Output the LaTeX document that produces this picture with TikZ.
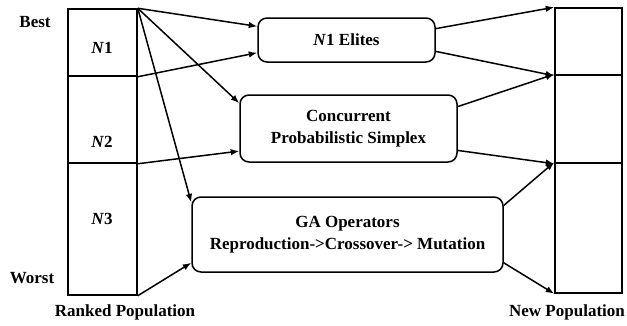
\documentclass[tikz,border=0pt]{standalone}
\usepackage{fontspec}
\setmainfont{Liberation Serif}
\usetikzlibrary{arrows.meta,calc}
\begin{document}
\begin{tikzpicture}[x=1pt,y=-1pt,
  every node/.style={font=\fontsize{17}{21.5}\selectfont\bfseries},
  cell/.style={draw,line width=1.5pt,inner sep=0pt},
  procbox/.style={draw,line width=1.5pt,rounded corners=9pt,inner sep=0pt,align=center},
  lbl/.style={inner sep=0pt},
  conn/.style={line width=1.5pt,-{Latex[length=8.5pt,width=6.5pt]}}]
\useasboundingbox (0,0) rectangle (627,325);
% ranked population
\node[cell,minimum width=69pt,minimum height=67pt] (rN1) at (102.5,42.5) {};
\node[cell,minimum width=69pt,minimum height=87pt] (rN2) at (102.5,119.5) {};
\node[cell,minimum width=69pt,minimum height=132pt] (rN3) at (102.5,229) {};
% new population
\node[cell,minimum width=67pt,minimum height=67pt] (nP1) at (588.5,41.5) {};
\node[cell,minimum width=67pt,minimum height=88pt] (nP2) at (588.5,119) {};
\node[cell,minimum width=67pt,minimum height=130pt] (nP3) at (588.5,228) {};
% labels
\node[lbl] (lN1) at (102,47.5) {\textit{N}1};
\node[lbl] (lN2) at (102,141.5) {\textit{N}2};
\node[lbl] (lN3) at (102,218.5) {\textit{N}3};
\node[lbl] (best) at (35,22) {Best};
\node[lbl] (worst) at (32,278) {Worst};
\node[lbl] (ranked) at (125,312) {Ranked Population};
\node[lbl] (newpop) at (567,312) {New Population};
% process boxes
\node[procbox,minimum width=177pt,minimum height=44pt] (e1) at (346.5,40) {\textit{N}1 Elites};
\node[procbox,minimum width=217pt,minimum height=67pt] (cps) at (348.5,128.5) {Concurrent\\Probabilistic Simplex};
\node[procbox,minimum width=311pt,minimum height=75pt] (ga) at (347.5,234.5) {GA Operators\\Reproduction->Crossover-> Mutation};
% left connectors
\draw[conn] (rN1.north east) -- ($(e1.north west)!0.2!(e1.south west)$);
\draw[conn] (rN1.south east) -- ($(e1.north west)!0.78!(e1.south west)$);
\draw[conn] (rN1.north east) -- ($(cps.north west)!0.13!(cps.south west)$);
\draw[conn] (rN2.south east) -- ($(cps.north west)!0.83!(cps.south west)$);
\draw[conn] (rN1.north east) -- ($(ga.north west)!0.08!(ga.south west)$);
\draw[conn] (rN3.south east) -- ($(ga.north west)!0.87!(ga.south west)$);
% right connectors
\draw[conn] ($(e1.north east)!0.25!(e1.south east)$) -- (nP1.north west);
\draw[conn] ($(e1.north east)!0.75!(e1.south east)$) -- (nP1.south west);
\draw[conn] ($(cps.north east)!0.18!(cps.south east)$) -- (nP2.north west);
\draw[conn] ($(cps.north east)!0.82!(cps.south east)$) -- (nP2.south west);
\draw[conn] ($(ga.north east)!0.12!(ga.south east)$) -- (nP3.north west);
\draw[conn] ($(ga.north east)!0.87!(ga.south east)$) -- (nP3.south west);
\end{tikzpicture}
\end{document}
